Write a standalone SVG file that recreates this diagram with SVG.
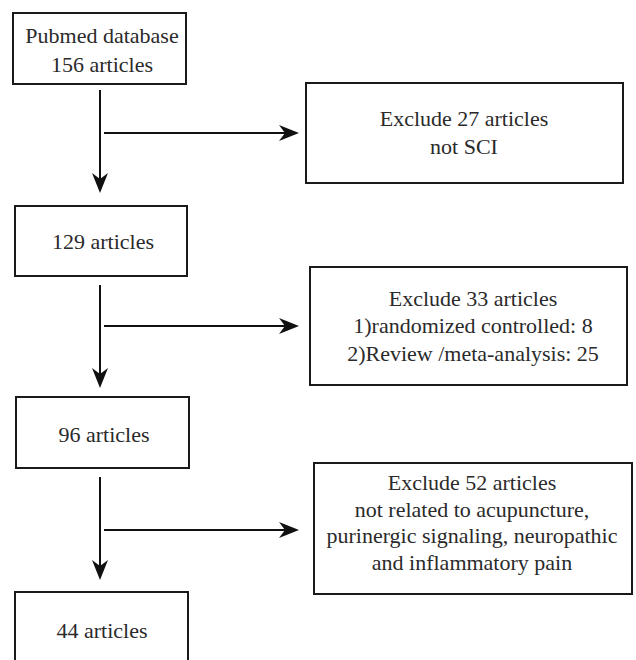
<svg xmlns="http://www.w3.org/2000/svg" width="636" height="660" viewBox="0 0 636 660">
<style>
.box{fill:#fff;stroke:#1a1a1a;stroke-width:2}
.t{font-family:"Liberation Serif","DejaVu Serif",serif;font-size:22px;fill:#2a2a2a;text-anchor:middle}
.c{stroke:#111;stroke-width:2;fill:none}
</style>
<defs>
<marker id="ah" viewBox="0 0 20 16" refX="6" refY="8" markerWidth="20" markerHeight="16" markerUnits="userSpaceOnUse" orient="auto">
<path d="M0,0 L20,8 L0,16 L6,8 Z" fill="#111"/>
</marker>
</defs>
<rect width="636" height="660" fill="#fff"/>
<g id="connectors">
<line class="c" x1="100" y1="90" x2="100" y2="179" marker-end="url(#ah)"/>
<line class="c" x1="104" y1="133" x2="285" y2="133" marker-end="url(#ah)"/>
<line class="c" x1="100" y1="285" x2="100" y2="374" marker-end="url(#ah)"/>
<line class="c" x1="104" y1="326" x2="285" y2="326" marker-end="url(#ah)"/>
<line class="c" x1="100" y1="477" x2="100" y2="566" marker-end="url(#ah)"/>
<line class="c" x1="104" y1="530" x2="285" y2="530" marker-end="url(#ah)"/>
</g>
<g id="n1">
<rect class="box" x="13" y="13" width="173" height="71"/>
<text class="t" x="102" y="43">Pubmed database</text>
<text class="t" x="102" y="72">156 articles</text>
</g>
<g id="n2">
<rect class="box" x="306" y="83" width="317" height="100"/>
<text class="t" x="464" y="126">Exclude 27 articles</text>
<text class="t" x="464" y="154">not SCI</text>
</g>
<g id="n3">
<rect class="box" x="15" y="206" width="172" height="70"/>
<text class="t" x="103" y="249">129 articles</text>
</g>
<g id="n4">
<rect class="box" x="310" y="267" width="317" height="118"/>
<text class="t" x="473" y="306">Exclude 33 articles</text>
<text class="t" x="473" y="333">1)randomized controlled: 8</text>
<text class="t" x="473" y="361">2)Review /meta-analysis: 25</text>
</g>
<g id="n5">
<rect class="box" x="16" y="397" width="173" height="71"/>
<text class="t" x="104" y="442">96 articles</text>
</g>
<g id="n6">
<rect class="box" x="314" y="463" width="318" height="131"/>
<text class="t" x="472" y="490">Exclude 52 articles</text>
<text class="t" x="472" y="517">not related to acupuncture,</text>
<text class="t" x="472" y="543">purinergic signaling, neuropathic</text>
<text class="t" x="472" y="570">and inflammatory pain</text>
</g>
<g id="n7">
<rect class="box" x="15" y="592" width="173" height="80"/>
<text class="t" x="102" y="638">44 articles</text>
</g>
</svg>
